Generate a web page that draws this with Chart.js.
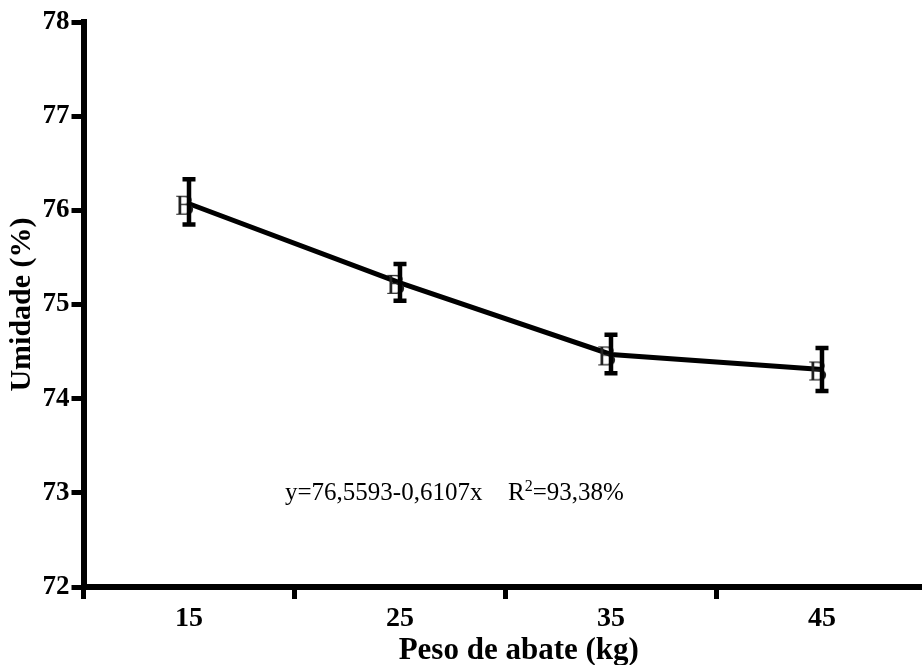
<!DOCTYPE html>
<html>
<head>
<meta charset="utf-8">
<script src="https://cdn.jsdelivr.net/npm/chart.js@4"></script>
<style>
  html, body { margin: 0; padding: 0; background: #fff; }
  #wrap { width: 922px; height: 665px; position: relative; }
</style>
</head>
<body>
<div id="wrap"><canvas id="grafico" width="922" height="665"></canvas></div>
<script>
// Peso de abate (kg) e umidade média (%) com limites das barras de erro
const pesoAbate = [15, 25, 35, 45];
const umidade = [76.07, 75.23, 74.47, 74.31];
const erroSuperior = [76.34, 75.44, 74.69, 74.55];
const erroInferior = [75.84, 75.03, 74.26, 74.07];

// Marcas do eixo x sem rótulo (entre as categorias)
const marcasX = [10, 20, 30, 40];
const rotulosX = [15, 25, 35, 45];

// Títulos dos eixos
const tituloX = 'Peso de abate (kg)';
const tituloY = 'Umidade (%)';

// Equação de regressão
const equacao = 'y=76,5593-0,6107x';
const r2Base = 'R';
const r2Expoente = '2';
const r2Valor = '=93,38%';
const posEquacao = { x: 19.55, y: 73 };
const posR2 = { x: 30.12, y: 73 };

const SERIF = '"Liberation Serif", "Times New Roman", serif';

// Símbolo dos pontos
function simboloPonto() {
  const c = document.createElement('canvas');
  c.width = 34; c.height = 36;
  const g = c.getContext('2d');
  g.font = '29px ' + SERIF;
  g.fillStyle = '#222';
  g.textAlign = 'center';
  g.textBaseline = 'middle';
  g.fillText('B', 13, 21);
  return c;
}

const barrasErro = {
  id: 'barrasErro',
  afterDatasetsDraw(chart) {
    const { ctx, chartArea, scales: { x, y } } = chart;
    ctx.save();
    ctx.strokeStyle = '#000';
    ctx.lineWidth = 4.5;
    ctx.lineCap = 'butt';
    pesoAbate.forEach((p, i) => {
      const px = x.getPixelForValue(p);
      const top = y.getPixelForValue(erroSuperior[i]);
      const bot = y.getPixelForValue(erroInferior[i]);
      ctx.beginPath();
      ctx.moveTo(px, top); ctx.lineTo(px, bot);
      ctx.moveTo(px - 6.5, top + 1); ctx.lineTo(px + 6.5, top + 1);
      ctx.moveTo(px - 6.5, bot - 1); ctx.lineTo(px + 6.5, bot - 1);
      ctx.stroke();
    });

    // Equação e coeficiente de determinação
    ctx.fillStyle = '#000';
    ctx.textBaseline = 'alphabetic';
    ctx.textAlign = 'left';
    const ey = y.getPixelForValue(posEquacao.y) + 7;
    ctx.font = '25px ' + SERIF;
    ctx.fillText(equacao, x.getPixelForValue(posEquacao.x), ey);
    let rx = x.getPixelForValue(posR2.x);
    ctx.fillText(r2Base, rx, ey);
    rx += ctx.measureText(r2Base).width;
    ctx.font = '16px ' + SERIF;
    ctx.fillText(r2Expoente, rx, ey - 9);
    rx += ctx.measureText(r2Expoente).width;
    ctx.font = '25px ' + SERIF;
    ctx.fillText(r2Valor, rx, ey);

    // Título do eixo x
    ctx.font = 'bold 31px ' + SERIF;
    ctx.textAlign = 'center';
    ctx.textBaseline = 'middle';
    ctx.fillText(tituloX, (chartArea.left + chartArea.right) / 2 + 16, 651);
    ctx.restore();
  }
};

new Chart(document.getElementById('grafico'), {
  type: 'line',
  data: {
    datasets: [{
      data: pesoAbate.map((p, i) => ({ x: p, y: umidade[i] })),
      borderColor: '#000',
      borderWidth: 5,
      tension: 0,
      fill: false,
      pointStyle: simboloPonto(),
      clip: false
    }]
  },
  options: {
    responsive: false,
    animation: false,
    layout: { autoPadding: false, padding: { top: 22, left: 0, right: 0, bottom: 0 } },
    plugins: { legend: { display: false }, tooltip: { enabled: false } },
    scales: {
      x: {
        type: 'linear',
        min: 10,
        max: 49.74,
        afterFit(s) { s.height = 78; s.paddingLeft = 0; s.paddingRight = 0; },
        afterBuildTicks(s) {
          s.ticks = marcasX.concat(rotulosX).sort((a, b) => a - b).map(v => ({ value: v }));
        },
        ticks: {
          autoSkip: false,
          maxRotation: 0,
          color: '#000',
          padding: 6,
          font: { family: SERIF, size: 28, weight: 'bold', lineHeight: 1 },
          callback: v => rotulosX.includes(v) ? String(v) : ''
        },
        grid: {
          drawOnChartArea: false,
          drawTicks: true,
          tickLength: 12,
          lineWidth: 5,
          color: c => (c.tick && marcasX.includes(c.tick.value)) ? '#000' : 'rgba(0,0,0,0)'
        },
        border: { display: true, color: '#000', width: 6 },
        title: { display: false, text: tituloX }
      },
      y: {
        min: 72,
        max: 78,
        afterFit(s) { s.width = 83.5; },
        ticks: {
          stepSize: 1,
          color: '#000',
          padding: 2,
          font: { family: SERIF, size: 27, weight: 'bold', lineHeight: 1 }
        },
        grid: {
          drawOnChartArea: false,
          drawTicks: true,
          tickLength: 12,
          lineWidth: 5,
          color: '#000'
        },
        border: { display: true, color: '#000', width: 6 },
        title: {
          display: true,
          text: tituloY,
          color: '#000',
          font: { family: SERIF, size: 30, weight: 'bold', lineHeight: 1 },
          padding: { top: 7, bottom: 0 }
        }
      }
    }
  },
  plugins: [barrasErro]
});
</script>
</body>
</html>
